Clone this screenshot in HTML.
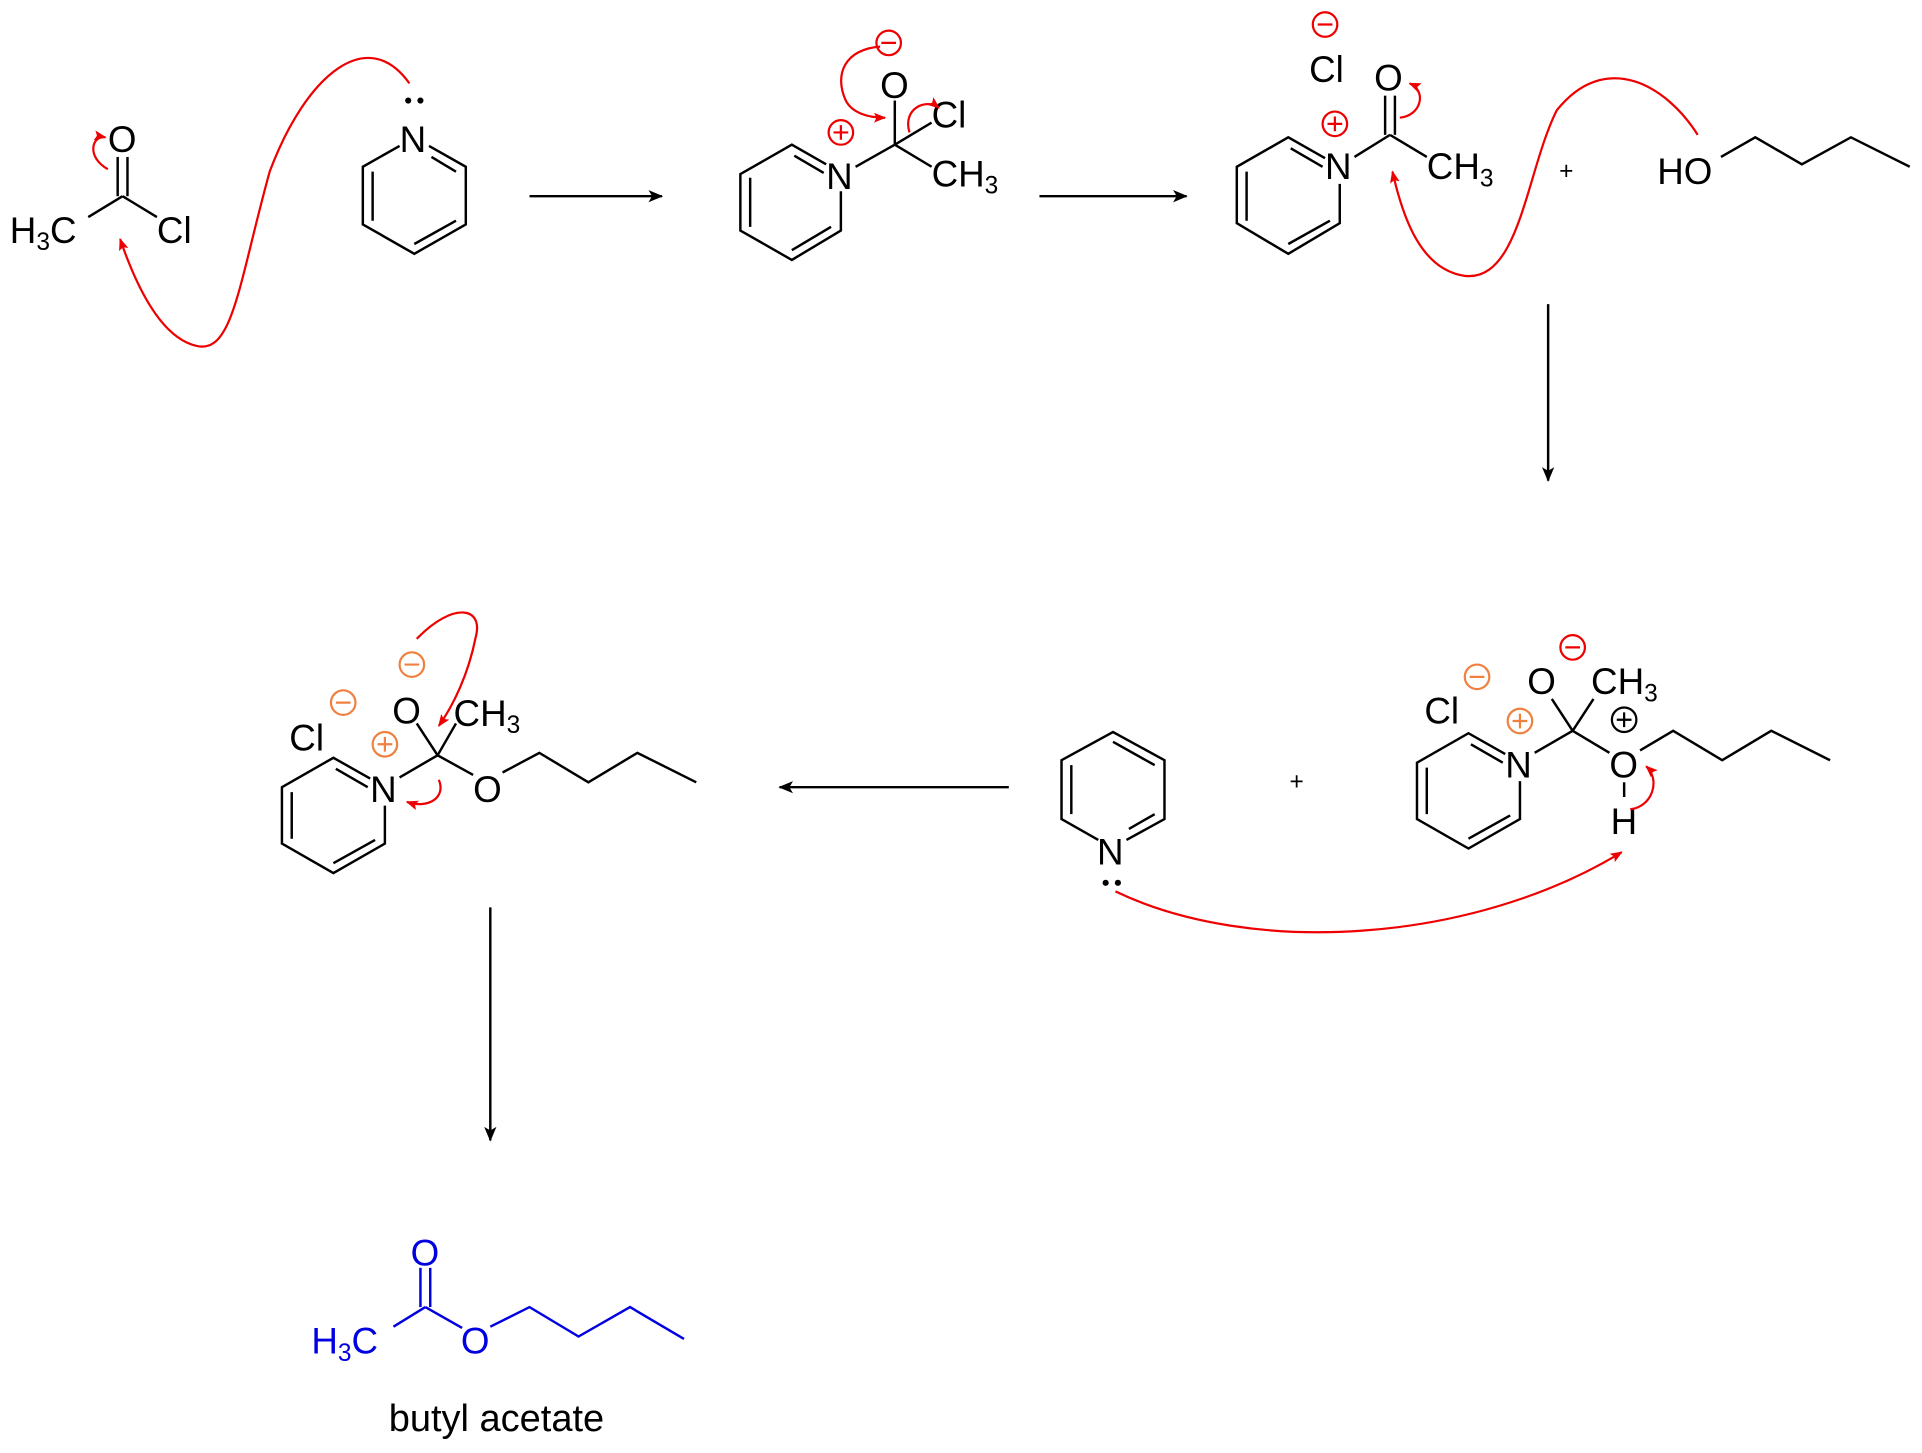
<!DOCTYPE html>
<html><head><meta charset="utf-8"><style>
html,body{margin:0;padding:0;background:#fff;}
svg{display:block}
text{font-family:"Liberation Sans",Arial,sans-serif;}
</style></head><body>
<svg width="1922" height="1453" viewBox="0 0 1568 1185" preserveAspectRatio="none" xmlns="http://www.w3.org/2000/svg">
<defs>
<marker id="ah" markerWidth="12" markerHeight="10" refX="11" refY="5" orient="auto" markerUnits="userSpaceOnUse"><path d="M0,0 L12,5 L0,10 L3,5 Z" fill="#000"/></marker>
<marker id="rh" markerWidth="10" markerHeight="8" refX="9" refY="4" orient="auto" markerUnits="userSpaceOnUse"><path d="M0,0 L10,4 L0,8 L2,4 Z" fill="#e00"/></marker>
</defs>
<g stroke="#000" stroke-width="2" fill="none">
<line x1="96" y1="128" x2="96" y2="160"/><line x1="104" y1="128" x2="104" y2="160"/>
<line x1="100" y1="160" x2="72" y2="177"/><line x1="100" y1="160" x2="128" y2="177"/>
<path d="M350,119 L380,136 L380,183 L338,207 L296,183 L296,136 L326,119"/>
<path d="M352,128 L372,140 M372,180 L338,199 M304,180 L304,140"/>
<line x1="432" y1="160" x2="540" y2="160" marker-end="url(#ah)"/>
<line x1="848" y1="160" x2="968" y2="160" marker-end="url(#ah)"/>
<line x1="1263" y1="248" x2="1263" y2="392" marker-end="url(#ah)"/>
<line x1="823" y1="642" x2="636" y2="642" marker-end="url(#ah)"/>
<line x1="400" y1="740" x2="400" y2="930" marker-end="url(#ah)"/>
<path d="M686,156 L686,188 L646,212 L604,188 L604,142 L646,118 L674,134"/>
<path d="M612,145 L612,185 M646,204 L678,185 M648,127 L672,141"/>
<line x1="698" y1="136" x2="730" y2="118"/>
<line x1="730" y1="118" x2="730" y2="82"/>
<line x1="730" y1="118" x2="760" y2="100"/>
<line x1="730" y1="118" x2="760" y2="136"/>
<path d="M1093,150 L1093,182 L1051,207 L1009,182 L1009,136 L1051,112 L1081,129"/>
<path d="M1017,140 L1017,180 M1051,199 L1085,180 M1053,121 L1079,136"/>
<line x1="1105" y1="128" x2="1134" y2="110"/>
<line x1="1130" y1="110" x2="1130" y2="78"/><line x1="1138" y1="110" x2="1138" y2="78"/>
<line x1="1134" y1="110" x2="1164" y2="128"/>
<path d="M1404,128 L1432,112 L1470,134 L1510,112 L1558,136"/>
<path d="M919,685 L950,668 L950,620 L908,597 L866,620 L866,668 L896,685"/>
<path d="M874,624 L874,664 M908,605 L942,624 M921,676 L942,664"/>
<path d="M1240,637 L1240,668 L1198,692 L1156,668 L1156,622 L1198,598 L1228,615"/>
<path d="M1164,626 L1164,664 M1198,684 L1232,665 M1200,607 L1226,622"/>
<line x1="1252" y1="614" x2="1283" y2="596"/>
<line x1="1283" y1="596" x2="1266" y2="570"/>
<line x1="1283" y1="596" x2="1300" y2="570"/>
<line x1="1283" y1="596" x2="1313" y2="614"/>
<path d="M1338,612 L1365,596 L1405,620 L1445,596 L1493,620"/>
<line x1="1325" y1="638" x2="1325" y2="650"/>
<path d="M314,657 L314,688 L272,712 L230,688 L230,642 L272,618 L302,635"/>
<path d="M238,646 L238,684 M272,704 L306,685 M274,627 L300,642"/>
<line x1="326" y1="634" x2="357" y2="616"/>
<line x1="357" y1="616" x2="340" y2="590"/>
<line x1="357" y1="616" x2="372" y2="590"/>
<line x1="357" y1="616" x2="386" y2="632"/>
<path d="M410,630 L440,614 L480,638 L520,614 L568,638"/>
</g>
<g stroke="#0000e0" stroke-width="2" fill="none">
<line x1="321" y1="1082" x2="347" y2="1066"/>
<line x1="343" y1="1066" x2="343" y2="1034"/><line x1="351" y1="1066" x2="351" y2="1034"/>
<line x1="347" y1="1066" x2="377" y2="1083"/>
<path d="M400,1082 L432,1066 L472,1090 L514,1066 L558,1092"/>
</g>
<g font-size="30" fill="#000">
<text x="88" y="124">O</text>
<text x="8" y="198">H<tspan font-size="20" dy="6">3</tspan><tspan dy="-6">C</tspan></text>
<text x="128" y="198">Cl</text>
<text x="326" y="124">N</text>
<text x="674" y="154">N</text>
<text x="718" y="80">O</text>
<text x="760" y="104">Cl</text>
<text x="760" y="152">CH<tspan font-size="20" dy="6">3</tspan></text>
<text x="1068" y="67">Cl</text>
<text x="1081" y="146">N</text>
<text x="1121" y="74">O</text>
<text x="1164" y="146">CH<tspan font-size="20" dy="6">3</tspan></text>
<text x="1352" y="150">HO</text>
<text x="895" y="705">N</text>
<text x="1162" y="590">Cl</text>
<text x="1228" y="634">N</text>
<text x="1246" y="566">O</text>
<text x="1298" y="566">CH<tspan font-size="20" dy="6">3</tspan></text>
<text x="1313" y="634">O</text>
<text x="1314" y="680">H</text>
<text x="236" y="612">Cl</text>
<text x="302" y="654">N</text>
<text x="320" y="590">O</text>
<text x="370" y="592">CH<tspan font-size="20" dy="6">3</tspan></text>
<text x="386" y="654">O</text>
</g>
<g font-size="20" fill="#000"><text x="1272" y="146">+</text><text x="1052" y="644">+</text></g>
<g font-size="30" fill="#0000e0">
<text x="335" y="1032">O</text>
<text x="254" y="1104">H<tspan font-size="20" dy="6">3</tspan><tspan dy="-6">C</tspan></text>
<text x="376" y="1104">O</text>
</g>
<text x="405" y="1167" font-size="31" text-anchor="middle" fill="#000">butyl acetate</text>
<g fill="#000"><circle cx="333" cy="82" r="2.5"/><circle cx="343" cy="82" r="2.5"/>
<circle cx="902" cy="720" r="2.5"/><circle cx="912" cy="720" r="2.5"/></g>
<g fill="none" stroke="#e00" stroke-width="1.8">
<circle cx="686" cy="108" r="10"/><circle cx="725" cy="35" r="10"/>
<circle cx="1081" cy="20" r="10"/><circle cx="1089" cy="101" r="10"/>
<circle cx="1283" cy="528" r="10"/>
</g>
<g stroke="#e00" stroke-width="1.8"><path d="M680,108h12M686,102v12M719,35h12M1075,20h12M1083,101h12M1089,95v12M1277,528h12"/></g>
<g fill="none" stroke="#f08040" stroke-width="1.8">
<circle cx="1205" cy="552" r="10"/><circle cx="1240" cy="588" r="10"/>
<circle cx="280" cy="573" r="10"/><circle cx="336" cy="542" r="10"/><circle cx="314" cy="607" r="10"/>
</g>
<g stroke="#f08040" stroke-width="1.8"><path d="M1199,552h12M1234,588h12M1240,582v12M274,573h12M330,542h12M308,607h12M314,601v12"/></g>
<circle cx="1325" cy="587" r="10" fill="none" stroke="#000" stroke-width="1.8"/>
<path d="M1319,587h12M1325,581v12" stroke="#000" stroke-width="1.8"/>
<g fill="none" stroke="#e00" stroke-width="1.8">
<path d="M334,68 C300,20 250,60 220,140 C195,230 190,290 160,282 C130,275 110,230 98,195" marker-end="url(#rh)"/>
<path d="M88,138 C70,128 75,110 86,112" marker-end="url(#rh)"/>
<path d="M718,38 C690,40 680,60 690,82 C695,92 708,96 722,96" marker-end="url(#rh)"/>
<path d="M742,108 C736,88 756,80 766,88" marker-end="url(#rh)"/>
<path d="M1142,96 C1160,94 1164,74 1150,68" marker-end="url(#rh)"/>
<path d="M1385,110 C1360,70 1310,40 1270,90 C1245,140 1240,230 1195,225 C1160,220 1145,180 1136,140" marker-end="url(#rh)"/>
<path d="M910,727 C1020,780 1200,770 1323,695" marker-end="url(#rh)"/>
<path d="M1330,660 C1348,658 1355,636 1343,625" marker-end="url(#rh)"/>
<path d="M340,521 C370,490 395,495 388,520 C382,550 370,575 358,592" marker-end="url(#rh)"/>
<path d="M358,636 C364,650 350,660 332,654" marker-end="url(#rh)"/>
</g>
</svg>
</body></html>
